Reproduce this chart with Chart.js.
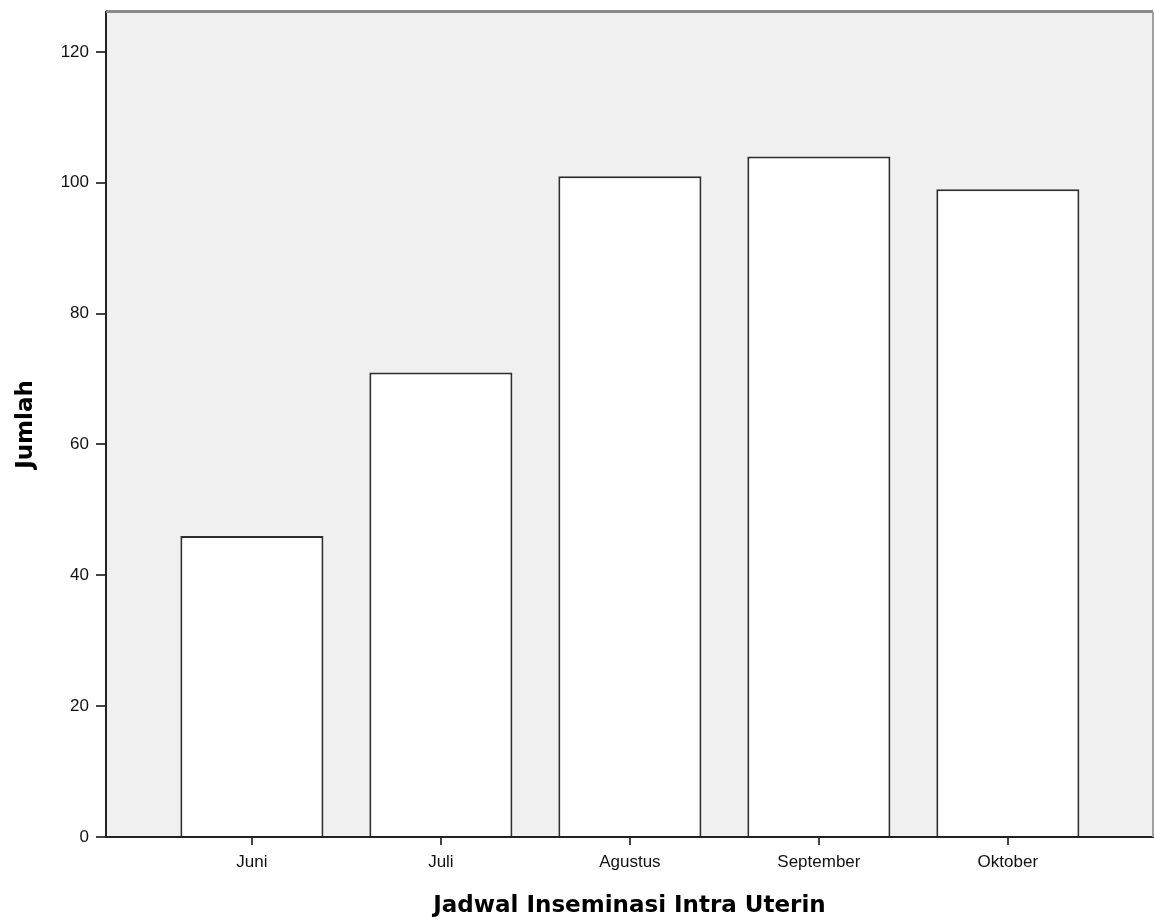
<!DOCTYPE html>
<html>
<head>
<meta charset="utf-8">
<script src="https://cdn.jsdelivr.net/npm/chart.js@4/dist/chart.umd.min.js"></script>
<style>
  html, body { margin: 0; padding: 0; background: #fff; }
  canvas { display: block; }
</style>
</head>
<body>
<canvas id="iuiChart" width="1154" height="924"></canvas>
<script>
// Data
const months = ["Juni", "Juli", "Agustus", "September", "Oktober"];
const counts = [46, 71, 101, 104, 99];
const yTicks = [0, 20, 40, 60, 80, 100, 120];

// Plot background and the grey frame on top / right
const framePlugin = {
  id: "frame",
  beforeDraw(chart) {
    const { ctx, chartArea: a } = chart;
    ctx.save();
    ctx.fillStyle = "#f0f0f0";
    ctx.fillRect(a.left, a.top, a.right - a.left, a.bottom - a.top);
    ctx.restore();
  },
  afterDraw(chart) {
    const { ctx, chartArea: a } = chart;
    ctx.save();
    ctx.strokeStyle = "#8a8a8a";
    ctx.lineWidth = 3;
    ctx.beginPath();
    ctx.moveTo(a.left, a.top - 0.5);
    ctx.lineTo(a.right, a.top - 0.5);
    ctx.stroke();
    ctx.strokeStyle = "#a0a0a0";
    ctx.lineWidth = 2;
    ctx.beginPath();
    ctx.moveTo(a.right, a.top);
    ctx.lineTo(a.right, a.bottom);
    ctx.stroke();
    ctx.restore();
  },
};

const tickFont = { family: "'Liberation Sans', Arial, sans-serif", size: 17 };
const titleFont = { family: "'DejaVu Sans', sans-serif", size: 23, weight: "bold" };

new Chart(document.getElementById("iuiChart"), {
  type: "bar",
  data: {
    datasets: [
      {
        data: counts.map((v, i) => ({ x: i + 1, y: v })),
        backgroundColor: "#ffffff",
        borderColor: "#2e2e2e",
        borderWidth: 2,
        barPercentage: 0.757,
        categoryPercentage: 1,
      },
    ],
  },
  options: {
    responsive: false,
    animation: false,
    layout: { padding: { top: 12, right: 1, left: 0, bottom: 0 } },
    plugins: {
      legend: { display: false },
      tooltip: { enabled: false },
    },
    scales: {
      x: {
        type: "linear",
        min: 0.228,
        max: 5.768,
        offset: false,
        afterBuildTicks: (axis) => {
          axis.ticks = months.map((_, i) => ({ value: i + 1 }));
        },
        afterFit: (axis) => {
          axis.height = 87;
          axis.paddingLeft = 0;
          axis.paddingRight = 0;
        },
        ticks: {
          color: "#111",
          font: tickFont,
          padding: 7,
          autoSkip: false,
          maxRotation: 0,
          callback: (v) => months[v - 1],
        },
        grid: {
          offset: false,
          drawOnChartArea: false,
          drawTicks: true,
          tickLength: 8,
          color: "#444",
          lineWidth: 2,
        },
        border: { display: true, color: "#222", width: 2 },
        title: {
          display: true,
          text: "Jadwal Inseminasi Intra Uterin",
          color: "#000",
          font: titleFont,
          padding: { top: 0, bottom: 4 },
        },
      },
      y: {
        min: 0,
        max: 126.1,
        afterBuildTicks: (axis) => {
          axis.ticks = yTicks.map((v) => ({ value: v }));
        },
        afterFit: (axis) => {
          axis.width = 106;
          axis.paddingTop = 0;
          axis.paddingBottom = 0;
        },
        ticks: {
          color: "#111",
          font: tickFont,
          padding: 7,
        },
        grid: {
          drawOnChartArea: false,
          drawTicks: true,
          tickLength: 10,
          color: "#444",
          lineWidth: 2,
        },
        border: { display: true, color: "#222", width: 2 },
        title: {
          display: true,
          text: "Jumlah",
          color: "#000",
          font: titleFont,
          padding: { top: 12, bottom: 0 },
        },
      },
    },
  },
  plugins: [framePlugin],
});
</script>
</body>
</html>
